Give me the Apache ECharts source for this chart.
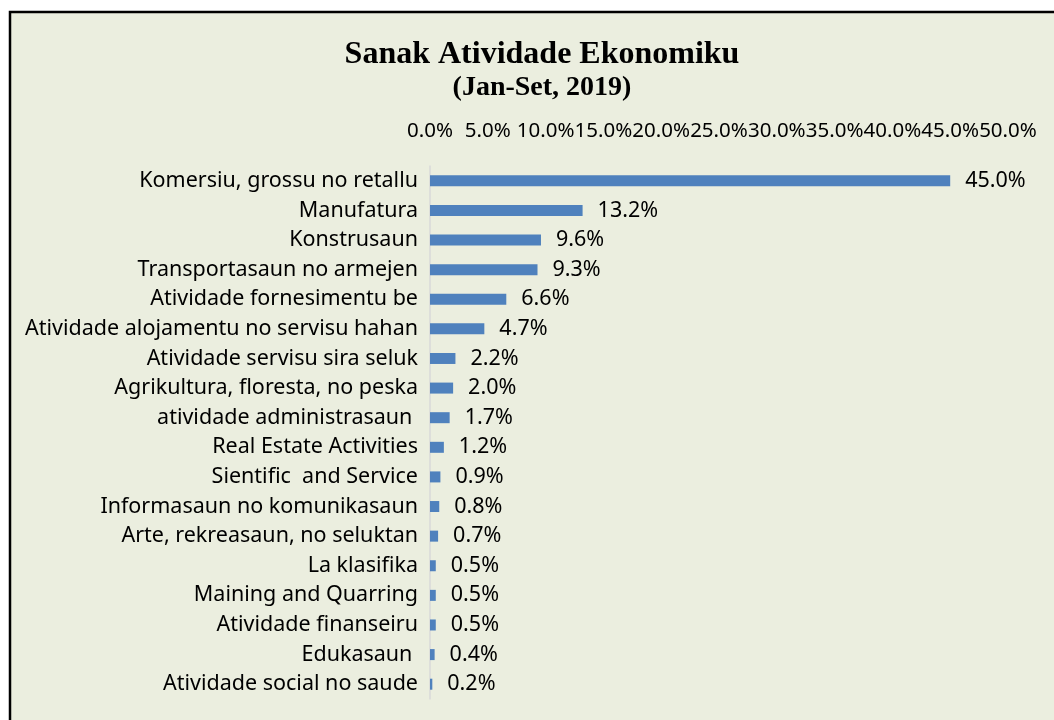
<!DOCTYPE html>
<html>
<head>
<meta charset="utf-8">
<script src="https://cdn.jsdelivr.net/npm/echarts@6/dist/echarts.min.js"></script>
<style>
  html, body { margin: 0; padding: 0; background: #fff; }
  #chart { width: 1054px; height: 720px; }
</style>
</head>
<body>
<div id="chart"></div>
<script>
// sectors, top to bottom
const sectors = [
  'Komersiu, grossu no retallu',
  'Manufatura',
  'Konstrusaun',
  'Transportasaun no armejen',
  'Atividade fornesimentu be',
  'Atividade alojamentu no servisu hahan',
  'Atividade servisu sira seluk',
  'Agrikultura, floresta, no peska',
  'atividade administrasaun ',
  'Real Estate Activities',
  'Sientific  and Service',
  'Informasaun no komunikasaun',
  'Arte, rekreasaun, no seluktan',
  'La klasifika',
  'Maining and Quarring',
  'Atividade finanseiru',
  'Edukasaun ',
  'Atividade social no saude'
]
// share in percent
const shares = [45.0, 13.2, 9.6, 9.3, 6.6, 4.7, 2.2, 2.0, 1.7, 1.2, 0.9, 0.8, 0.7, 0.5, 0.5, 0.5, 0.4, 0.2]

const pct = v => Number(v).toFixed(1) + '%'
const txt = { color: '#000', fontFamily: 'Noto Sans', fontSize: 21.5 }

const chart = echarts.init(document.getElementById('chart'))
chart.setOption({
  animation: false,
  graphic: [{
    type: 'rect',
    z: -10,
    silent: true,
    shape: { x: 10, y: 12, width: 1100, height: 800 },
    style: { fill: '#EBEEDF', stroke: '#000', lineWidth: 2.5 }
  }],
  title: [{
    text: 'Sanak Atividade Ekonomiku',
    left: 537,
    top: 34,
    textAlign: 'center',
    textStyle: { fontFamily: 'Liberation Serif', fontSize: 32, fontWeight: 'bold', color: '#000' }
  }, {
    text: '(Jan-Set, 2019)',
    left: 537,
    top: 69,
    textAlign: 'center',
    textStyle: { fontFamily: 'Liberation Serif', fontSize: 28, fontWeight: 'bold', color: '#000' }
  }],
  grid: { left: 430, right: 46, top: 166, bottom: 21, containLabel: false },
  xAxis: {
    type: 'value',
    position: 'top',
    min: 0,
    max: 50,
    interval: 5,
    axisLine: { show: false },
    axisTick: { show: false },
    splitLine: { show: false },
    axisLabel: Object.assign({}, txt, {
      margin: 24,
      fontSize: 20.5,
      formatter: pct,
      showMinLabel: true,
      showMaxLabel: true,
      hideOverlap: false
    })
  },
  yAxis: {
    type: 'category',
    inverse: true,
    data: sectors,
    axisTick: { show: false },
    axisLine: { lineStyle: { color: '#D9D9D9', width: 1.5 } },
    axisLabel: Object.assign({ margin: 12, interval: 0 }, txt)
  },
  series: [{
    type: 'bar',
    data: shares,
    barWidth: 11,
    itemStyle: { color: '#4F81BD' },
    label: Object.assign({
      show: true,
      position: 'right',
      distance: 15,
      formatter: p => pct(p.value)
    }, txt)
  }]
})
</script>
</body>
</html>
